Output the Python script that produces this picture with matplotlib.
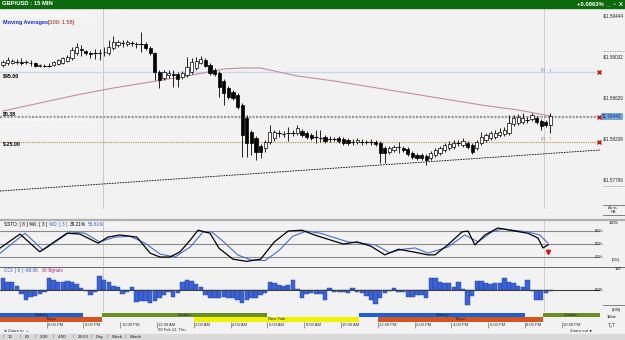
import numpy as np
import matplotlib.pyplot as plt
import matplotlib.transforms as mtrans
from matplotlib.patches import Rectangle

plt.rcParams['font.family'] = ['Liberation Sans', 'DejaVu Sans']

# ---------------- data (15 min GBP/USD candles) ----------------
opens = [1.5895, 1.5897, 1.5897, 1.5898, 1.5898, 1.5898, 1.58975, 1.5897, 1.58945, 1.58945,
         1.58945, 1.5895, 1.5896, 1.5897, 1.5899, 1.5902, 1.5907, 1.5911, 1.5909, 1.59075,
         1.5907, 1.5907, 1.59085, 1.5907, 1.5912, 1.5915, 1.5917, 1.5916, 1.5917, 1.5916,
         1.5916, 1.5916, 1.5912, 1.5907, 1.5888, 1.5882, 1.5885, 1.5886, 1.5886, 1.5883,
         1.5885, 1.5888, 1.5892, 1.5897, 1.5900, 1.5895, 1.5890, 1.5887, 1.5879, 1.5872,
         1.5868, 1.5865, 1.5855, 1.5842, 1.5828, 1.5822, 1.5814, 1.5812, 1.5818, 1.5822,
         1.5827, 1.5826, 1.5827, 1.5827, 1.5827, 1.5829, 1.5827, 1.5825, 1.5823, 1.5822,
         1.5823, 1.5821, 1.5821, 1.5822, 1.5821, 1.5820, 1.5818, 1.5818, 1.5818, 1.5818,
         1.5818, 1.5818, 1.5817, 1.5812, 1.5808, 1.5810, 1.5813, 1.5812, 1.5811, 1.5807,
         1.5805, 1.5805, 1.5804, 1.5802, 1.5805, 1.5807, 1.5810, 1.5812, 1.5813, 1.5817,
         1.5815, 1.5817, 1.5815, 1.5812, 1.5817, 1.5820, 1.5822, 1.5823, 1.5825, 1.5826,
         1.5827, 1.5836, 1.5837, 1.5838, 1.5840, 1.5841, 1.5842, 1.5839, 1.5838, 1.5835]
closes = [1.5898, 1.5900, 1.5899, 1.5898, 1.58975, 1.5898, 1.5897, 1.5894, 1.5895, 1.58945,
          1.58945, 1.5898, 1.5900, 1.5902, 1.5903, 1.5910, 1.5913, 1.5910, 1.5907, 1.59065,
          1.5907, 1.5907, 1.59075, 1.5913, 1.5918, 1.5918, 1.5917, 1.5918, 1.5917, 1.5916,
          1.5916, 1.5912, 1.5907, 1.5888, 1.5880, 1.5888, 1.5887, 1.58855, 1.5881, 1.5887,
          1.5893, 1.5898, 1.5899, 1.5901, 1.5894, 1.5887, 1.5886, 1.5873, 1.5867, 1.5863,
          1.5862, 1.5853, 1.5825, 1.5817, 1.5817, 1.5808, 1.5808, 1.5818, 1.5828, 1.5828,
          1.5827, 1.5826, 1.5827, 1.5827, 1.5832, 1.5825, 1.5823, 1.5822, 1.5823, 1.5822,
          1.5819, 1.5821, 1.5821, 1.5819, 1.5817, 1.5817, 1.5818, 1.5820, 1.5818, 1.5818,
          1.5818, 1.5816, 1.5807, 1.5807, 1.5812, 1.5813, 1.5813, 1.5810, 1.5806, 1.5803,
          1.5802, 1.5802, 1.5800, 1.5807, 1.5810, 1.5812, 1.5815, 1.5816, 1.5817, 1.5817,
          1.5819, 1.5813, 1.5808, 1.5818, 1.5823, 1.5825, 1.5827, 1.5827, 1.5828, 1.5830,
          1.5837, 1.5842, 1.5843, 1.5842, 1.5840, 1.5845, 1.5838, 1.5834, 1.5835, 1.5844]
highs = [1.5900, 1.5903, 1.5901, 1.5901, 1.5902, 1.5900, 1.5900, 1.5898, 1.5896, 1.5896,
         1.5897, 1.5899, 1.5901, 1.5903, 1.5905, 1.5913, 1.5917, 1.5915, 1.5910, 1.5909,
         1.5911, 1.5911, 1.5913, 1.5920, 1.5924, 1.5920, 1.5920, 1.5920, 1.5919, 1.5918,
         1.5928, 1.5918, 1.5914, 1.5908, 1.5890, 1.5890, 1.5890, 1.5890, 1.5888, 1.5889,
         1.5903, 1.5902, 1.5903, 1.5904, 1.5902, 1.5897, 1.5892, 1.5889, 1.5881, 1.5874,
         1.5870, 1.5867, 1.5857, 1.5845, 1.5830, 1.5824, 1.5816, 1.5820, 1.5835, 1.5830,
         1.5830, 1.5829, 1.5833, 1.5830, 1.5835, 1.5831, 1.5829, 1.5827, 1.5830, 1.5830,
         1.5825, 1.5824, 1.5823, 1.5824, 1.5823, 1.5822, 1.5821, 1.5822, 1.5821, 1.5820,
         1.5821, 1.5820, 1.5819, 1.5814, 1.5814, 1.5815, 1.5818, 1.5814, 1.5813, 1.5809,
         1.5807, 1.5807, 1.5806, 1.5809, 1.5812, 1.5814, 1.5817, 1.5819, 1.5820, 1.5820,
         1.5822, 1.5819, 1.5817, 1.5820, 1.5828, 1.5827, 1.5829, 1.5830, 1.5832, 1.5833,
         1.5845, 1.5845, 1.5846, 1.5847, 1.5843, 1.5847, 1.5844, 1.5841, 1.5840, 1.5847]
lows = [1.5893, 1.5895, 1.5896, 1.5896, 1.5895, 1.5896, 1.5894, 1.5893, 1.5893, 1.5893,
        1.5893, 1.5894, 1.5895, 1.5896, 1.5898, 1.5900, 1.5905, 1.5904, 1.5905, 1.5902,
        1.5901, 1.5900, 1.5904, 1.5905, 1.5910, 1.5913, 1.5913, 1.5914, 1.5914, 1.5912,
        1.5908, 1.5910, 1.5905, 1.5880, 1.5872, 1.5880, 1.5882, 1.5873, 1.5873, 1.5881,
        1.5883, 1.5886, 1.5890, 1.5896, 1.5893, 1.5885, 1.5884, 1.5863, 1.5855, 1.5861,
        1.5860, 1.5851, 1.5803, 1.5803, 1.5805, 1.5800, 1.5802, 1.5808, 1.5816, 1.5819,
        1.5823, 1.5823, 1.5819, 1.5824, 1.5825, 1.5823, 1.5821, 1.5820, 1.5817, 1.5818,
        1.5817, 1.5818, 1.5819, 1.5817, 1.5815, 1.5815, 1.5815, 1.5816, 1.5815, 1.5816,
        1.5815, 1.5814, 1.5797, 1.5797, 1.5806, 1.5808, 1.5807, 1.5808, 1.5804, 1.5801,
        1.5800, 1.5800, 1.5795, 1.5800, 1.5803, 1.5805, 1.5808, 1.5810, 1.5811, 1.5814,
        1.5813, 1.5811, 1.5806, 1.5810, 1.5815, 1.5818, 1.5820, 1.5821, 1.5823, 1.5824,
        1.5825, 1.5834, 1.5835, 1.5836, 1.5837, 1.5839, 1.5836, 1.5830, 1.5833, 1.5827]

# 100 period moving average, read every 8 bars
ma_idx = [0, 8, 16, 24, 32, 40, 48, 52, 56, 64, 72, 80, 88, 96, 104, 112, 119]
ma_val = [1.5849, 1.5857, 1.5865, 1.5872, 1.5878, 1.5884, 1.5891, 1.5892, 1.5892, 1.5884,
          1.5879, 1.5873, 1.5867, 1.5861, 1.5855, 1.5850, 1.5844]

# horizontal order / alert lines
blue_line = 1.5888
avg_line = 1.58435
tan_line = 1.5818
trend_idx = [-0.65, 129.8]
trend_val = [1.5769, 1.5810]

price_ticks = [1.59444, 1.59032, 1.58620, 1.58208, 1.57796]
last_price = 1.58443
marker_prices = [1.5909, 1.5774]

# slow stochastic
k_idx = [-0.6, 3.7, 8.0, 13.9, 16.7, 20.7, 22.8, 25.4, 29.1, 32.0, 34.1, 36.3, 38.5, 40.7, 42.4,
         45.0, 47, 50, 53, 56, 59, 62, 65, 68, 71, 74, 77, 80, 83, 86, 89.6, 92.4, 93.9, 96.7,
         99.8, 101.1, 102.6, 104.8, 107.6, 111.3, 114.1, 116.3, 117.4, 118.5]
k_val = [41, 73, 32, 75, 73, 52, 66, 71, 66, 29, 20, 20, 32, 59, 82,
         75, 40, 15, 10, 15, 55, 80, 82, 70, 60, 50, 55, 45, 25, 38, 31, 25, 25, 48,
         78, 80, 48, 71, 87, 80, 75, 64, 41, 48]
d_idx = [-0.6, 4.8, 8.7, 14.6, 17.8, 21.0, 24.3, 27.6, 30.9, 34.1, 37.4, 40.7, 43.5, 45.4,
         48, 51, 54, 57, 60, 63, 66, 69, 72, 75, 78, 81, 84, 87, 89.6, 92.4, 96.7, 100.4,
         103.3, 106.3, 108.5, 114.1, 116.7, 118.5]
d_val = [29, 75, 36, 78, 75, 55, 66, 68, 52, 27, 20, 43, 78, 78,
         55, 25, 13, 12, 35, 68, 80, 75, 65, 55, 52, 48, 30, 38, 41, 29, 43, 71,
         55, 78, 85, 78, 71, 52]

# CCI(6)
cci = [120, 80, 80, 40, -40, -100, -70, -60, -40, -20,
       120, 100, 80, 80, 90, 80, 60, 20, -10, -50,
       -20, 140, 100, 80, 40, 30, -40, -20, 30, -120,
       -110, -110, -130, -110, -80, -50, -20, -70, -30, 80,
       100, 90, 60, 30, -50, -80, -80, -80, -70, -80,
       -80, -100, -130, -100, -80, -80, -50, -30, 80, 70,
       50, 40, 50, 100, 10, -80, -40, -30, -40, -40,
       -100, 20, -20, -20, -20, -30, 20, -20, -30, -60,
       -100, -140, -80, -30, -10, 20, -20, -20, -70, -70,
       -50, -50, -80, 120, 120, 80, 70, 70, 30, 80,
       10, -150, -60, 90, 90, 70, 60, 70, 70, 120,
       80, 70, 40, 30, 100, -10, -100, -98, -30, -10]

time_labels = ['6:00 PM', '8:00 PM', '10:00 PM', '12:00 AM', '2:00 AM', '4:00 AM', '6:00 AM',
               '8:00 AM', '10:00 AM', '12:00 PM', '2:00 PM', '4:00 PM', '6:00 PM', '8:00 PM',
               '10:00 PM']
sess_names = ['Sydney', 'Tokyo', 'London', 'New York', 'Sydney', 'Tokyo', 'London']
sess_start = [-0.65, -0.65, 21.5, 41.5, 77.5, 81.5, 117.5]
sess_end = [17.5, 21.5, 57.5, 77.5, 113.5, 117.5, 129.8]
sess_row = [1, 0, 1, 0, 1, 0, 1]
sess_col = ['#1f5fd8', '#d2561e', '#6b8e23', '#f2f200', '#1f5fd8', '#d2561e', '#6b8e23']

tabs = ['15', '60', '2:00', '4:00', '24:00', 'Day', 'Week', 'Month']

# ---------------- figure ----------------
W, H = 625, 340
BG = '#f2f2f2'
fig = plt.figure(figsize=(W / 100, H / 100), dpi=100, facecolor=BG)
XL = (-0.65, 129.8)
renderer = fig.canvas.get_renderer()


def px_axes(x0, y0, w, h):
    a = fig.add_axes([x0 / W, 1 - (y0 + h) / H, w / W, h / H])
    a.set_facecolor(BG)
    a.set_xlim(*XL)
    a.set_xticks([])
    a.set_yticks([])
    for s in a.spines.values():
        s.set_visible(False)
    return a


def ft(x, y, s, **kw):
    kw.setdefault('va', 'center')
    kw.setdefault('fontsize', 3.6)
    return fig.text(x / W, 1 - y / H, s, **kw)


def seq_text(x, y, parts, gap=2.0, **kw):
    # write coloured pieces one after the other on one row
    for s, col in parts:
        t = ft(x, y, s, color=col, **kw)
        x = t.get_window_extent(renderer).x1 + gap


def hline_px(y, x0, x1, **kw):
    fig.add_artist(plt.Line2D([x0 / W, x1 / W], [1 - y / H, 1 - y / H], **kw))


# title bar
fig.add_artist(Rectangle((0, 1 - 7.5 / H), 1, 7.5 / H, color='#0c6a0c', zorder=5))
ft(2, 3.8, 'GBP/USD : 15 MIN', color='white', fontsize=4.2, fontweight='bold', zorder=6)
ft(623, 3.8, '+0.0863%  _  \u25ab  X', color='white', fontsize=4.2, ha='right',
   fontweight='bold', zorder=6)

# ---------------- main price panel ----------------
ax = px_axes(0, 8, 600, 201)
ax.set_ylim(1.5751, 1.5952)
idx = np.arange(len(opens))
o = np.array(opens)
c = np.array(closes)
ax.vlines(idx, lows, highs, color='black', lw=0.6, zorder=3)
up = c >= o
ax.bar(idx[up], (c - o)[up], bottom=o[up], width=0.7, color='white', edgecolor='black',
       linewidth=0.5, zorder=4)
ax.bar(idx[~up], (c - o)[~up], bottom=o[~up], width=0.7, color='black', edgecolor='black',
       linewidth=0.5, zorder=4)
doji = np.abs(c - o) < 0.00003
ax.hlines(o[doji], idx[doji] - 0.4, idx[doji] + 0.4, color='black', lw=0.8, zorder=4)

ax.plot(ma_idx, ma_val, color='#c4909a', lw=0.8, zorder=2)
ax.axhline(blue_line, color='#c9d5f0', lw=1.0, zorder=1)
ax.axhline(avg_line, color='#9c9c9c', lw=1.6, ls=(0, (1, 0.6)), zorder=1)
ax.axhline(tan_line, color='#c39a6a', lw=0.9, ls=(0, (1, 0.8)), zorder=1)
ax.plot(trend_idx, trend_val, color='black', lw=0.6, ls=(0, (2, 1.2)), zorder=1)
for yv in (blue_line, avg_line, tan_line):
    ax.plot(XL[1] - 0.15, yv, marker='x', color='#d01010', ms=2.6, mew=1.0, clip_on=False,
            zorder=6)

tr = mtrans.blended_transform_factory(ax.transAxes, ax.transData)
for p in price_ticks:
    ax.text(1.004, p, '-$%.5f' % p, transform=tr, fontsize=3.3, va='center', ha='left',
            color='#222222', clip_on=False)
for p in marker_prices:
    ax.plot([1.005, 1.04], [p, p], transform=tr, color='#909090', lw=0.6, ls=(0, (1, 1)),
            clip_on=False)
ax.text(1.003, last_price, '$%.5f' % last_price, transform=tr, fontsize=3.3, va='center',
        ha='left', color='#10306a', clip_on=False,
        bbox=dict(boxstyle='square,pad=0.15', fc='#76a9dc', ec='#4a7fb8', lw=0.4))
ax.text(0.005, blue_line - 0.00035, '$45.00', transform=tr, fontsize=3.8, va='center',
        fontweight='bold', color='black')
ax.text(0.005, avg_line + 0.00025, '$0.38', transform=tr, fontsize=3.8, va='center',
        fontweight='bold', color='black')
ax.text(0.005, tan_line - 0.00022, '$-25.00', transform=tr, fontsize=3.8, va='center',
        fontweight='bold', color='black')
ax.text(117.0, blue_line + 0.00015, '(3)', fontsize=3.0, color='#808080', va='center')
ax.text(118.6, blue_line + 0.00015, 'T', fontsize=3.0, color='#5070c0', va='center')
ax.text(117.0, tan_line + 0.00025, '(2)', fontsize=3.0, color='#808080', va='center')
ax.text(118.6, tan_line + 0.00025, 'T', fontsize=3.0, color='#e0a020', va='center')

# header texts in main panel
ft(3, 10, 'O:1.58431  H:1.58434  L:1.58431  C:1.58443  Change(0.0011) (0.07%)', color='white')
ft(3, 16, 'Net Global Long Avg Price: 1.58427 (1)', color='white')
seq_text(3, 22.5, [('Moving Averages:', '#1f2fc0')], fontsize=4.0, fontweight='bold')
ft(48, 22.5, '[100: 1.58]', color='#a01818', fontsize=4.0)
ft(3, 28.5, 'Alerts 9/4', color='white')
ft(3, 119.5, 'Net Global Long Avg Price: 1.58426 (2)', color='white')

# alerts box on the right edge
hline_px(204.5, 603, 625, color='#505050', lw=0.5)
ft(613, 207.5, 'Alerts', fontsize=2.8, ha='center', color='#303030')
ft(613, 212, 'NA', fontsize=2.8, ha='center', color='#303030')
hline_px(214.5, 603, 625, color='#505050', lw=0.5)

# ---------------- stochastic panel ----------------
ax2 = px_axes(0, 221, 600, 45)
ax2.set_ylim(-0.7, 103.2)
for lv in (80, 50, 20):
    ax2.axhline(lv, color='#8a8a8a', lw=0.8)
ax2.plot(d_idx, d_val, color='#4a6cc8', lw=0.8)
ax2.plot(k_idx, k_val, color='black', lw=0.9)
ax2.plot(118.6, 31, marker='v', color='#e01010', ms=3)
ax2.vlines(118.6, 31, 38, color='#e01010', lw=0.8)
tr2 = mtrans.blended_transform_factory(ax2.transAxes, ax2.transData)
for lv in (80, 50, 20):
    ax2.text(0.992, lv, '%d%%-' % lv, transform=tr2, fontsize=3.0, va='center', ha='left',
             clip_on=False)
hline_px(219.8, 0, 625, color='#b0b0b0', lw=1.6)
hline_px(266.5, 0, 625, color='#505050', lw=0.6)
seq_text(4, 224.5, [('SSTO: [ 8 ] %K: [ 3 ]', 'black'), ('%D: [ 3 ]', '#3a5cc0'),
                    ('39.21%', 'black'), ('56.61%', '#3a5cc0'), ('Signals', 'white')],
         fontsize=3.4)
ft(609, 223, '100%', fontsize=2.8)
ft(612, 260.5, '(0%)', fontsize=2.8)

# ---------------- CCI panel ----------------
ax3 = px_axes(0, 267, 600, 45)
ax3.set_ylim(-220, 230)
ax3.bar(idx, cci, width=0.95, color='#3c63d6', edgecolor='#1d3b9e', linewidth=0.3)
ax3.axhline(0, color='#404040', lw=0.8)
tr3 = mtrans.blended_transform_factory(ax3.transAxes, ax3.transData)
ax3.text(0.992, 0, '0.00-', transform=tr3, fontsize=3.0, va='center', ha='left', clip_on=False)
seq_text(4, 270.5, [('CCI: [ 6 ] -98.06', '#3a5cc0'), ('\u21e70', '#c02080'),
                    ('Signals', '#c02080')], fontsize=3.4)
ft(615, 269.5, '100', fontsize=2.8)
ft(612, 309.5, '(100)', fontsize=2.8)
hline_px(304.5, 603, 625, color='#505050', lw=0.5)

# vertical cursor lines
for a in (ax, ax2, ax3):
    a.axvline(21.8, color='#c8c8c8', lw=0.7, zorder=0)
    a.axvline(117.6, color='#e2c4cc', lw=0.7, zorder=0)

# ---------------- session bars ----------------
ax4 = px_axes(0, 312.5, 600, 9)
ax4.set_ylim(0, 2)
for n, s0, s1, r, col in zip(sess_names, sess_start, sess_end, sess_row, sess_col):
    ax4.add_patch(Rectangle((s0, r), s1 - s0, 1, color=col, lw=0))
    ax4.text((s0 + s1) / 2, r + 0.5, n, fontsize=3.0, ha='center', va='center',
             color='#1a1a40')
ft(612, 317, '12/ne', fontsize=2.8, ha='center')

# ---------------- time axis ----------------
ax5 = px_axes(0, 321.5, 600, 7)
ax5.set_ylim(0, 1)
tick_idx = [9.5 + 8 * k for k in range(len(time_labels))]
ax5.vlines(tick_idx, 0.1, 1, color='#707070', lw=0.5)
for t, lab in zip(tick_idx, time_labels):
    ax5.text(t + 0.3, 0.55, lab, fontsize=3.0, va='center', ha='left', color='#303030')
ft(158.5, 329.5, '09 Feb 12, Thu', fontsize=3.0, color='#303030')
ft(612, 326, 'T\u2082T', fontsize=3.6, ha='center', color='#404040')

# bottom strip
fig.add_artist(Rectangle((0, 0), 1, 6 / H, color='#d9d9d9', zorder=0))
ft(2, 331, '\u25c4', fontsize=3.0, color='#404040')
ft(8, 331, 'Zoom in', fontsize=3.2, color='#303030')
ft(26, 331, '+', fontsize=3.2, color='#303030')
ft(570, 331, 'Zoom out', fontsize=3.2, color='#303030')
ft(588, 331, '\u25ba', fontsize=3.0, color='#303030')
tab_x = [8, 25, 40, 58, 78, 96, 112, 130]
for tx, tb in zip(tab_x, tabs):
    ft(tx - 5, 337, '/', fontsize=3.4, color='#606060')
    ft(tx, 337, tb, fontsize=3.2, color='#202020')

fig.savefig('out.png', dpi=100, facecolor=BG)
